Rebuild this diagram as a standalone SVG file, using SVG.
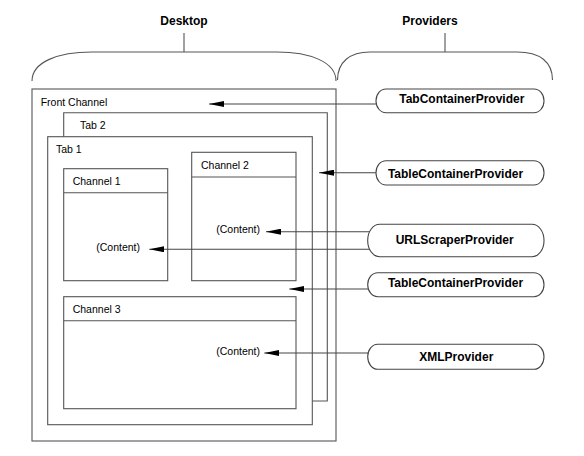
<svg xmlns="http://www.w3.org/2000/svg" width="584" height="456" viewBox="0 0 584 456">
<style>
.box{fill:none;stroke:#555;stroke-width:1.1}
.pill{fill:#fff;stroke:#444;stroke-width:1.1}
.conn{fill:none;stroke:#444;stroke-width:1.1}
.lbl{font-family:"Liberation Sans",Arial,sans-serif;font-size:10.5px;fill:#000}
.bold{font-family:"Liberation Sans",Arial,sans-serif;font-size:12px;font-weight:bold;fill:#000}
</style>
<defs>
<marker id="ah" markerUnits="userSpaceOnUse" markerWidth="15" markerHeight="6" viewBox="0 -3 15 6" refX="15" refY="0" orient="auto">
<path d="M0,-3 L15,0 L0,3 Z" fill="#000"/>
</marker>
</defs>
<rect width="584" height="456" fill="#fff"/>

<g id="desktop-brace">
<text class="bold" x="184" y="25" text-anchor="middle">Desktop</text>
<path class="box" d="M184,33 V52 M32,81 C32,62 58,52 92,52 H277 C310,52 336,62 336,81"/>
</g>
<g id="providers-brace">
<text class="bold" x="430" y="25" text-anchor="middle">Providers</text>
<path class="box" d="M445,33 V52 M337.5,80 C337.5,62 350,52 370,52 H517 C540,52 552.5,62 552.5,80"/>
</g>

<g id="front-channel">
<rect class="box" x="32" y="89" width="304" height="352"/>
<text class="lbl" x="40.7" y="106">Front Channel</text>
</g>
<g id="tab2">
<path class="box" d="M63.7,136.7 V112.7 H327.3 V401 H312.3"/>
<text class="lbl" x="80" y="128.7">Tab 2</text>
</g>
<g id="tab1">
<rect class="box" x="47.7" y="136.7" width="264.6" height="288"/>
<text class="lbl" x="56" y="153.3">Tab 1</text>
</g>
<g id="channel2">
<rect class="box" x="191.7" y="152.3" width="104.3" height="128.4"/>
<line class="box" x1="191.7" y1="177" x2="296" y2="177"/>
<text class="lbl" x="201" y="169">Channel 2</text>
<text class="lbl" x="260" y="233.3" text-anchor="end">(Content)</text>
</g>
<g id="channel1">
<rect class="box" x="63.7" y="168.7" width="104" height="112"/>
<line class="box" x1="63.7" y1="192.7" x2="167.7" y2="192.7"/>
<text class="lbl" x="72.7" y="185">Channel 1</text>
<text class="lbl" x="140" y="250.7" text-anchor="end">(Content)</text>
</g>
<g id="channel3">
<rect class="box" x="63.7" y="296.7" width="232.3" height="112"/>
<line class="box" x1="63.7" y1="320.7" x2="296" y2="320.7"/>
<text class="lbl" x="72.7" y="313.3">Channel 3</text>
<text class="lbl" x="260" y="355" text-anchor="end">(Content)</text>
</g>

<g id="connectors">
<line class="conn" x1="377" y1="104" x2="209" y2="104" marker-end="url(#ah)"/>
<line class="conn" x1="377" y1="172.7" x2="319" y2="172.7" marker-end="url(#ah)"/>
<line class="conn" x1="370" y1="231.7" x2="266" y2="231.7" marker-end="url(#ah)"/>
<line class="conn" x1="369" y1="249.3" x2="149.3" y2="249.3" marker-end="url(#ah)"/>
<line class="conn" x1="369" y1="289" x2="289.3" y2="289" marker-end="url(#ah)"/>
<line class="conn" x1="369" y1="353" x2="264.3" y2="353" marker-end="url(#ah)"/>
</g>

<g id="tabcontainerprovider">
<rect class="pill" x="376" y="89" width="168" height="23.7" rx="10" ry="11.8"/>
<text class="bold" x="461.8" y="103.3" text-anchor="middle">TabContainerProvider</text>
</g>
<g id="tablecontainerprovider-1">
<rect class="pill" x="376" y="160.7" width="168" height="24.3" rx="10" ry="12"/>
<text class="bold" x="455.5" y="177.7" text-anchor="middle">TableContainerProvider</text>
</g>
<g id="urlscraperprovider">
<rect class="pill" x="367.7" y="224.3" width="176.3" height="32.4" rx="12" ry="16"/>
<text class="bold" x="454.7" y="244.3" text-anchor="middle">URLScraperProvider</text>
</g>
<g id="tablecontainerprovider-2">
<rect class="pill" x="367.7" y="272.7" width="176.3" height="24" rx="10" ry="12"/>
<text class="bold" x="455.5" y="286.7" text-anchor="middle">TableContainerProvider</text>
</g>
<g id="xmlprovider">
<rect class="pill" x="367.7" y="344.3" width="176.3" height="25" rx="10" ry="12.5"/>
<text class="bold" x="456.3" y="361" text-anchor="middle">XMLProvider</text>
</g>
</svg>
